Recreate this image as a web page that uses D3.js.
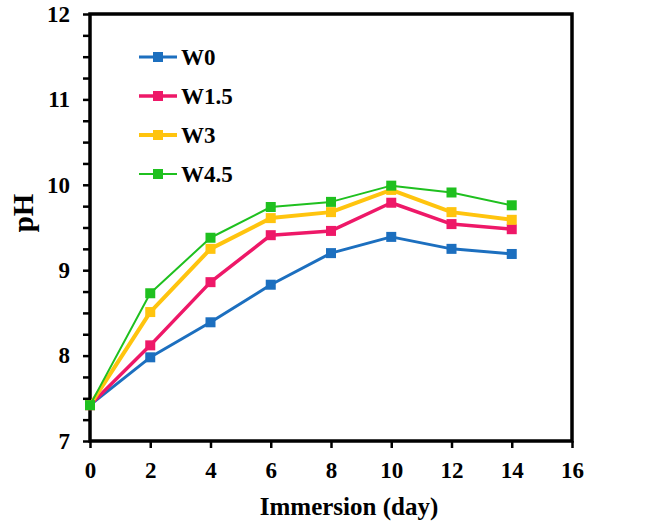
<!DOCTYPE html>
<html>
<head>
  <meta charset="UTF-8">
  <title>pH vs immersion</title>
  <style>
    body { margin: 0; background: #fff; }
    svg text { font-family: "Liberation Serif", "Times New Roman", serif; font-weight: bold; fill: #000; }
  </style>
</head>
<body>
  <svg></svg>
  <script src="https://d3js.org/d3.v7.min.js"></script>
  <script>
    let width = 664, height = 523;
    // data
    const days = [0, 2, 4, 6, 8, 10, 12, 14];
    const seriesNames = ["W0", "W1.5", "W3", "W4.5"];
    const colors = ["#1c6fbf", "#ee1868", "#ffc40e", "#1fc01f"];
    const lineWidths = [3, 3.5, 4, 2];
    const w0 = [7.42, 7.98, 8.39, 8.83, 9.20, 9.39, 9.25, 9.19];
    const w15 = [7.42, 8.12, 8.86, 9.41, 9.46, 9.79, 9.54, 9.48];
    const w3 = [7.42, 8.51, 9.25, 9.61, 9.68, 9.94, 9.68, 9.59];
    const w45 = [7.42, 8.73, 9.38, 9.74, 9.80, 9.99, 9.91, 9.76];
    const xTicks = [0, 2, 4, 6, 8, 10, 12, 14, 16];
    const yTicks = [7, 8, 9, 10, 11, 12];

    const allSeries = [w0, w15, w3, w45];

    let svg = d3.select("svg").attr("width", width).attr("height", height);
    let margin = {left: 90, right: 92, top: 14, bottom: 82};

    let x = d3.scaleLinear().domain([0, 16]).range([margin.left, width - margin.right]);
    let y = d3.scaleLinear().domain([7, 12]).range([height - margin.bottom, margin.top]);

    // axes
    let xAxis = svg.append("g")
        .attr("transform", `translate(0,${height - margin.bottom})`)
        .call(d3.axisBottom(x).tickValues(xTicks).tickSize(7).tickPadding(14));
    let yAxis = svg.append("g")
        .attr("transform", `translate(${margin.left},0)`)
        .call(d3.axisLeft(y).tickValues(d3.range(7, 12.01, 0.25)).tickSize(7).tickPadding(13)
          .tickFormat(d => yTicks.includes(d) ? d : ""));
    [xAxis, yAxis].forEach(g => {
      g.selectAll(".domain").remove();
      g.selectAll(".tick line").attr("stroke", "#000").attr("stroke-width", 2.5);
      g.selectAll(".tick text").style("font-size", "23px");
    });

    // frame
    svg.append("rect")
        .attr("x", x(0)).attr("y", y(12))
        .attr("width", x(16) - x(0)).attr("height", y(7) - y(12))
        .attr("fill", "none").attr("stroke", "#000").attr("stroke-width", 3.5);

    // lines + markers
    let line = d3.line().x((d, i) => x(days[i])).y(d => y(d));
    allSeries.forEach((vals, k) => {
      let g = svg.append("g");
      g.append("path").datum(vals)
          .attr("d", line)
          .attr("fill", "none")
          .attr("stroke", colors[k])
          .attr("stroke-width", lineWidths[k])
          .attr("stroke-linejoin", "round");
      g.selectAll("rect").data(vals).enter().append("rect")
          .attr("x", (d, i) => x(days[i]) - 5)
          .attr("y", d => y(d) - 5)
          .attr("width", 10).attr("height", 10)
          .attr("fill", colors[k]);
    });

    // legend
    let legend = svg.append("g").attr("transform", "translate(139,57)");
    seriesNames.forEach((name, k) => {
      let row = legend.append("g").attr("transform", `translate(0,${k * 39})`);
      row.append("line").attr("x1", 0).attr("x2", 38).attr("y1", 0).attr("y2", 0)
          .attr("stroke", colors[k]).attr("stroke-width", lineWidths[k]);
      row.append("rect").attr("x", 14).attr("y", -5).attr("width", 10).attr("height", 10)
          .attr("fill", colors[k]);
      row.append("text").attr("x", 42).attr("y", 8).style("font-size", "23px").text(name);
    });

    // axis titles
    svg.append("text")
        .attr("x", (x(0) + x(16)) / 2 + 18).attr("y", 515)
        .attr("text-anchor", "middle").style("font-size", "25px")
        .text("Immersion (day)");
    svg.append("text")
        .attr("transform", "translate(33,213) rotate(-90)")
        .attr("text-anchor", "middle").style("font-size", "29px")
        .text("pH");
  </script>
</body>
</html>
